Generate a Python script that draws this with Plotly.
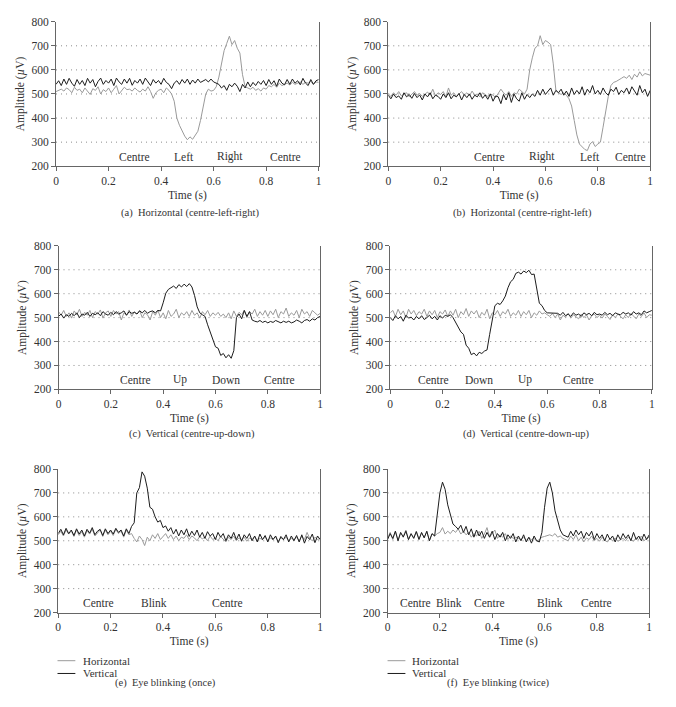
import plotly.graph_objects as go
from plotly.subplots import make_subplots

# ---------------- data ----------------
t = [i / 100 for i in range(101)]

a_horizontal = [
    510, 515, 520, 512, 525, 518, 505, 528, 515, 520,
    505, 525, 512, 498, 522, 515, 530, 500, 518, 510,
    525, 505, 520, 535, 500, 515, 528, 518, 520, 512,
    525, 515, 508, 520, 512, 530, 510, 482, 505, 515,
    520, 505, 525, 515, 500, 470, 400, 370, 345, 325,
    310, 322, 312, 330, 345, 390, 450, 500, 520, 512,
    515, 530, 570, 630, 680, 710, 740, 705, 722, 690,
    670, 580, 530, 525, 520, 528, 515, 522, 512, 525,
    520, 535, 530, 540, 528, 545, 535, 540, 545, 538,
    548, 540, 545, 550, 540, 548, 545, 552, 540, 550,
    548]
a_vertical = [
    540, 555, 535, 562, 540, 565, 545, 532, 560, 540,
    556, 535, 565, 545, 560, 530, 552, 566, 540, 556,
    545, 562, 535, 566, 550, 540, 562, 545, 565, 536,
    556, 545, 562, 540, 566, 550, 535, 560, 545, 556,
    540, 565, 548, 540, 522, 545, 555, 540, 560, 545,
    562, 540, 558, 545, 562, 548, 555, 560, 550, 562,
    550, 545, 540, 525, 535, 515, 540, 530, 545, 532,
    510, 540, 525, 550, 530, 548, 535, 552, 540, 556,
    535, 560, 540, 555, 532, 562, 545, 538, 560, 540,
    562, 545, 555, 538, 565, 545, 535, 560, 540, 555,
    560]

b_horizontal = [
    500, 490, 505, 495, 510, 492, 500, 505, 488, 500,
    510, 495, 502, 490, 500, 508, 495, 520, 492, 505,
    498, 510, 488, 525, 495, 505, 490, 500, 510, 495,
    505, 492, 512, 495, 500, 488, 505, 498, 490, 500,
    495, 485, 505, 520, 505, 495, 510, 490, 505, 500,
    520, 510, 500, 520, 600, 650, 690, 700, 742, 705,
    722, 715, 705, 625, 515, 505, 498, 505, 495, 480,
    450, 390, 330, 292, 280, 270, 265, 292, 302, 282,
    292, 300, 362, 432, 490, 535, 548, 552, 560, 565,
    572, 565, 578, 560, 582, 570, 592, 575, 585, 580,
    578]
b_vertical = [
    495, 480, 500, 485, 492, 478, 505, 488, 498, 482,
    502, 485, 496, 475, 500, 488, 505, 480, 495, 490,
    478, 500, 485, 505, 480, 495, 488, 502, 475, 498,
    485, 500, 478, 495, 488, 505, 482, 496, 478, 500,
    470, 492, 488, 460, 498, 475, 505, 465, 500, 480,
    470, 505, 478, 498, 485, 500, 490, 515, 495, 520,
    498, 510, 525, 495, 515, 505, 520, 495, 512, 490,
    525, 498, 515, 500, 530, 495, 520, 505, 535, 500,
    515, 498, 525, 505, 495, 520, 510, 528, 498, 515,
    505, 525, 500, 530, 510, 495, 535, 505, 520, 490,
    515]

c_horizontal = [
    525, 510, 530, 505, 520, 498, 528, 512, 535, 505,
    522, 510, 530, 500, 525, 515, 532, 498, 520, 528,
    505, 530, 515, 525, 490, 520, 510, 532, 505, 525,
    515, 530, 500, 520, 512, 490, 525, 510, 530, 500,
    520, 495, 530, 505, 515, 535, 500, 520, 510, 525,
    505, 530, 510, 520, 498, 525, 512, 530, 505, 520,
    510, 522, 505, 515, 500, 520, 495, 528, 505, 522,
    512, 530, 500, 525, 515, 535, 505, 525, 510, 530,
    505, 528, 512, 535, 500, 525, 515, 540, 505, 520,
    510, 530, 500, 535, 515, 525, 505, 530, 520, 510,
    518]
c_vertical = [
    505, 515, 498, 512, 505, 518, 508, 520, 500, 515,
    510, 522, 505, 518, 512, 520, 508, 525, 515, 510,
    522, 512, 525, 515, 520, 528, 510, 525, 518, 522,
    515, 528, 520, 530, 518, 525, 528, 520, 530, 528,
    562, 602, 618, 625, 632, 622, 638, 628, 640, 630,
    642, 628, 592, 545, 520, 512, 505, 470, 440, 410,
    378, 372, 342, 350, 332, 345, 330, 362, 500, 515,
    495, 530, 505, 525, 490, 485, 482, 488, 480, 485,
    478, 484, 480, 488, 482, 478, 485, 480, 485, 478,
    482, 490, 485, 478, 488, 492, 485, 495, 490, 500,
    505]

d_horizontal = [
    520, 530, 505, 535, 512, 528, 500, 535, 515, 530,
    508, 525, 515, 535, 505, 528, 512, 530, 500, 525,
    515, 532, 505, 528, 510, 535, 500, 525, 512, 538,
    505, 528, 515, 530, 500, 522, 510, 535, 495, 520,
    512, 530, 505, 525, 515, 535, 505, 520, 510, 530,
    505, 525, 512, 530, 500, 520, 510, 528, 515, 520,
    512, 505, 518, 500, 515, 490, 510, 502, 518, 498,
    512, 505, 495, 515, 500, 512, 490, 508, 515, 500,
    510, 498, 515, 505, 492, 512, 500, 515, 505, 495,
    512, 500, 518, 505, 495, 515, 505, 520, 500, 512,
    510]
d_vertical = [
    500, 488, 508, 495, 505, 485, 510, 498, 502, 490,
    505, 495, 508, 492, 500, 510, 495, 505, 490, 508,
    498, 510, 505, 512, 500, 480, 465, 440, 430, 385,
    372, 345, 352, 340, 355, 350, 360, 365, 430, 500,
    550, 560, 555, 570, 590, 625, 650, 660, 685, 690,
    682, 695, 688, 698, 680, 682, 620, 560, 550, 530,
    520, 520, 520, 520, 518, 510, 522, 508, 515, 505,
    520, 510, 515, 505, 520, 512, 518, 508, 522, 512,
    515, 510, 522, 512, 518, 508, 520, 515, 512, 522,
    515, 520, 510, 525, 515, 520, 512, 528, 520, 525,
    530]

e_horizontal = [
    525, 540, 520, 545, 528, 540, 518, 545, 522, 538,
    515, 542, 528, 548, 520, 535, 545, 518, 545, 525,
    540, 522, 548, 530, 540, 515, 545, 525, 530, 510,
    495, 520, 505, 480, 515, 500, 525, 510, 530, 505,
    520, 530, 510, 525, 505, 520, 500, 515, 510, 525,
    505, 520, 512, 500, 518, 508, 515, 500, 520, 505,
    512, 500, 518, 505, 495, 515, 505, 520, 500, 512,
    505, 515, 498, 512, 505, 518, 500, 510, 505, 515,
    500, 512, 505, 518, 498, 512, 505, 515, 500, 510,
    505, 515, 500, 520, 505, 535, 510, 500, 515, 505,
    510]
e_vertical = [
    530, 548, 525, 552, 530, 545, 522, 550, 528, 545,
    520, 548, 532, 555, 525, 540, 548, 522, 550, 530,
    545, 528, 552, 535, 545, 520, 550, 530, 560, 575,
    700, 722, 788, 770, 720, 640, 632, 600, 578, 585,
    555, 562, 540, 555, 528, 548, 520, 545, 525, 550,
    518, 540, 522, 545, 515, 535, 510, 538, 520, 530,
    505, 535, 515, 530, 500, 525, 510, 535, 505, 528,
    498, 525, 510, 530, 500, 520, 495, 528, 505, 522,
    495, 525, 505, 520, 492, 518, 505, 525, 495, 520,
    500, 522, 495, 525, 490, 518, 505, 528, 492, 520,
    505]

f_horizontal = [
    510, 535, 505, 540, 502, 532, 518, 545, 505, 528,
    512, 540, 508, 532, 515, 538, 502, 528, 520, 530,
    535, 555, 528, 540, 530, 545, 535, 550, 528, 540,
    525, 535, 515, 530, 520, 540, 510, 528, 555, 515,
    530, 545, 510, 525, 515, 530, 505, 520, 510, 515,
    510, 505, 515, 502, 512, 505, 510, 498, 505, 515,
    518, 522, 525, 520, 530, 515, 520, 510, 505, 500,
    520, 505, 525, 500, 515, 495, 512, 505, 520, 500,
    510, 498, 515, 502, 495, 510, 500, 512, 498, 505,
    510, 500, 515, 505, 498, 512, 505, 520, 500, 510,
    515]
f_vertical = [
    505, 530, 510, 540, 500, 535, 515, 540, 505, 530,
    510, 538, 505, 535, 512, 540, 500, 530, 520, 600,
    700, 745, 715, 650, 610, 570, 560, 548, 565, 535,
    560, 525, 550, 515, 545, 520, 540, 510, 535, 515,
    540, 505, 530, 515, 535, 500, 525, 510, 530, 495,
    520, 500, 525, 495, 515, 490, 520, 500, 495, 535,
    640, 720, 745, 700, 625, 580, 545, 525, 520, 515,
    540, 520, 545, 525, 540, 510, 535, 520, 540, 505,
    530, 510, 525, 500, 528, 505, 520, 495, 525, 505,
    530, 510, 525, 500, 535, 505, 520, 500, 528, 505,
    525]

panels = [
    (a_horizontal, a_vertical),
    (b_horizontal, b_vertical),
    (c_horizontal, c_vertical),
    (d_horizontal, d_vertical),
    (e_horizontal, e_vertical),
    (f_horizontal, f_vertical),
]

state_labels = [
    (["Centre", "Left", "Right", "Centre"], [0.297, 0.489, 0.664, 0.874]),
    (["Centre", "Right", "Left", "Centre"], [0.388, 0.586, 0.77, 0.924]),
    (["Centre", "Up", "Down", "Centre"], [0.293, 0.463, 0.641, 0.846]),
    (["Centre", "Down", "Up", "Centre"], [0.167, 0.34, 0.515, 0.72]),
    (["Centre", "Blink", "Centre"], [0.153, 0.367, 0.647]),
    (["Centre", "Blink", "Centre", "Blink", "Centre"], [0.106, 0.236, 0.39, 0.619, 0.798]),
]
label_level = 240

captions = [
    "(a)  Horizontal (centre-left-right)",
    "(b)  Horizontal (centre-right-left)",
    "(c)  Vertical (centre-up-down)",
    "(d)  Vertical (centre-down-up)",
    "(e)  Eye blinking (once)",
    "(f)  Eye blinking (twice)",
]

series_names = ["Horizontal", "Vertical"]

x_ticks = [0, 0.2, 0.4, 0.6, 0.8, 1]
x_ticktext = ["0", "0.2", "0.4", "0.6", "0.8", "1"]
y_ticks = [200, 300, 400, 500, 600, 700, 800]
grid_levels = [300, 400, 500, 600, 700]

# ---------------- layout geometry ----------------
W, H = 676, 707
FONT = "Liberation Serif, Times New Roman, serif"
GRAY = "#9a9a9a"
BLACK = "#1c1c1c"
AXIS = "#666666"
TXT = "#333333"
COLORS = [GRAY, BLACK]

xdoms = [(53.5, 318.5), (388.7, 653.0), (56.0, 320.0), (390.7, 654.7), (55.7, 320.0), (388.0, 652.0)]
ydoms = [(16, 163), (16, 163), (244, 390), (244, 390), (471, 617), (471, 617)]
caption_pos = [(189, 211), (524, 211), (191, 435), (528, 435), (164, 689), (500, 689)]
legend_pos = [(55, 73, 79), (388, 406, 411)]   # line start, line end, text start
legend_rows = [666, 679]

fig = make_subplots(rows=3, cols=2)

for i, (hz, vt) in enumerate(panels):
    r, c = i // 2 + 1, i % 2 + 1
    fig.add_trace(go.Scatter(x=t, y=hz, mode="lines", name=series_names[0],
                             line=dict(color=GRAY, width=1), showlegend=False),
                  row=r, col=c)
    fig.add_trace(go.Scatter(x=t, y=vt, mode="lines", name=series_names[1],
                             line=dict(color=BLACK, width=1), showlegend=False),
                  row=r, col=c)

for i in range(6):
    n = "" if i == 0 else str(i + 1)
    x0, x1 = xdoms[i]
    y0, y1 = ydoms[i]
    fig.layout["xaxis" + n].update(
        domain=[x0 / W, x1 / W], range=[0, 1], tickvals=x_ticks, ticktext=x_ticktext,
        showgrid=False, zeroline=False, showline=True, linecolor=AXIS, linewidth=1,
        ticks="outside", ticklen=4, tickcolor=AXIS,
        tickfont=dict(family=FONT, size=11.5, color=TXT),
        title=dict(text="Time (s)", font=dict(family=FONT, size=11.5, color=TXT), standoff=4),
    )
    fig.layout["yaxis" + n].update(
        domain=[1 - y1 / H, 1 - y0 / H], range=[200, 800], tickvals=y_ticks,
        showgrid=False, zeroline=False, showline=True, linecolor=AXIS, linewidth=1,
        mirror=True, ticks="outside", ticklen=4, tickcolor=AXIS,
        tickfont=dict(family=FONT, size=11.5, color=TXT),
        title=dict(text="Amplitude (<i>µ</i>V)", font=dict(family=FONT, size=11.5, color=TXT), standoff=4),
    )
    xr = "x" + n
    yr = "y" + n
    for g in grid_levels:
        fig.add_shape(type="line", xref=xr + " domain", yref=yr, x0=0, x1=1, y0=g, y1=g,
                      line=dict(color="#8a8a8a", width=1, dash="1px,4px"), layer="below")
    names, xs = state_labels[i]
    for name, xv in zip(names, xs):
        fig.add_annotation(x=xv, y=label_level, xref=xr, yref=yr, text=name, showarrow=False,
                           font=dict(family=FONT, size=11.5, color=TXT))
    cx, cy = caption_pos[i]
    fig.add_annotation(x=cx / W, y=1 - cy / H, xref="paper", yref="paper", text=captions[i],
                       showarrow=False, xanchor="center", yanchor="middle",
                       font=dict(family=FONT, size=10.5, color=TXT))

# legends under panels (e) and (f)
for (lx0, lx1, tx) in legend_pos:
    for name, col, ly in zip(series_names, COLORS, legend_rows):
        fig.add_shape(type="line", xref="paper", yref="paper",
                      x0=lx0 / W, x1=lx1 / W, y0=1 - ly / H, y1=1 - ly / H,
                      line=dict(color=col, width=1))
        fig.add_annotation(x=tx / W, y=1 - ly / H, xref="paper", yref="paper", text=name,
                           showarrow=False, xanchor="left", yanchor="middle",
                           font=dict(family=FONT, size=11, color=TXT))

fig.update_layout(
    width=W, height=H, autosize=False,
    margin=dict(l=0, r=0, t=0, b=0),
    paper_bgcolor="white", plot_bgcolor="white",
    font=dict(family=FONT, size=11, color=TXT),
    showlegend=False,
)

fig.write_html("out.html", config={"displayModeBar": False},
               post_script="document.body.style.margin='0px';")
